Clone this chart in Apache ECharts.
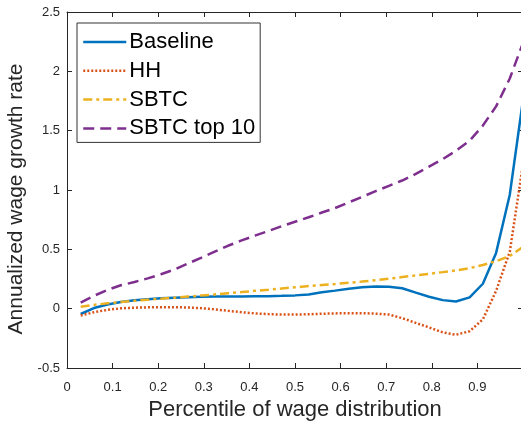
<!DOCTYPE html>
<html>
<head>
<meta charset="utf-8">
<script src="https://cdn.jsdelivr.net/npm/echarts@6/dist/echarts.min.js"></script>
<style>
  html, body { margin: 0; padding: 0; background: #fff; }
  #chart { width: 521px; height: 423px; }
</style>
</head>
<body>
<div id="chart"></div>
<script>
// Percentile points at which each wage-growth curve is evaluated
const percentiles = [0.030, 0.059, 0.089, 0.118, 0.148, 0.177, 0.206, 0.236, 0.265, 0.295,
  0.324, 0.353, 0.383, 0.412, 0.442, 0.471, 0.500, 0.530, 0.559, 0.588,
  0.618, 0.647, 0.677, 0.706, 0.735, 0.765, 0.794, 0.824, 0.853, 0.883,
  0.912, 0.941, 0.971, 1.000];

const baseline = [-0.045, 0.005, 0.035, 0.057, 0.070, 0.080, 0.088, 0.093, 0.097, 0.100,
  0.102, 0.103, 0.103, 0.104, 0.105, 0.108, 0.112, 0.120, 0.138, 0.152,
  0.168, 0.180, 0.186, 0.184, 0.172, 0.135, 0.100, 0.072, 0.060, 0.095,
  0.210, 0.470, 0.960, 1.760];

const hh = [-0.058, -0.030, -0.010, 0.003, 0.008, 0.011, 0.012, 0.012, 0.010, 0.004,
  -0.006, -0.018, -0.030, -0.040, -0.046, -0.050, -0.050, -0.047, -0.043, -0.040,
  -0.038, -0.038, -0.042, -0.050, -0.080, -0.120, -0.158, -0.200, -0.220, -0.190,
  -0.090, 0.150, 0.480, 1.220];

const sbtc = [0.017, 0.032, 0.045, 0.056, 0.066, 0.075, 0.084, 0.093, 0.102, 0.111,
  0.120, 0.130, 0.140, 0.150, 0.160, 0.170, 0.180, 0.190, 0.199, 0.208,
  0.218, 0.228, 0.240, 0.252, 0.266, 0.280, 0.294, 0.308, 0.322, 0.342,
  0.368, 0.400, 0.445, 0.520];

const sbtcTop10 = [0.050, 0.108, 0.158, 0.197, 0.225, 0.255, 0.290, 0.330, 0.380, 0.430,
  0.480, 0.530, 0.575, 0.615, 0.655, 0.695, 0.732, 0.770, 0.810, 0.848,
  0.896, 0.942, 0.990, 1.035, 1.080, 1.136, 1.197, 1.260, 1.330, 1.415,
  1.543, 1.705, 1.940, 2.240];

const seriesNames = ['Baseline', 'HH', 'SBTC', 'SBTC top 10'];
const seriesColors = ['#0072BD', '#D95319', '#EDB120', '#7E2F8E'];
const seriesDashes = ['solid', [2, 2], [9, 4, 3, 4], [11, 6]];
const seriesValues = [baseline, hh, sbtc, sbtcTop10];

const FONT = 'Liberation Sans, Arial, Helvetica, sans-serif';
const AXIS_COLOR = '#262626';

const chart = echarts.init(document.getElementById('chart'), null, { renderer: 'canvas' });

const pairs = vals => percentiles.map((p, i) => [p, vals[i]]);

const axisCommon = {
  axisLine: { show: true, onZero: false, lineStyle: { color: AXIS_COLOR, width: 1 } },
  axisTick: { show: true, inside: true, length: 5, lineStyle: { color: AXIS_COLOR } },
  splitLine: { show: false }
};

chart.setOption({
  animation: false,
  backgroundColor: '#ffffff',
  grid: { left: 67, top: 12, width: 456, height: 356, containLabel: false, outerBoundsMode: 'none' },
  legend: {
    data: seriesNames,
    orient: 'vertical',
    left: 77,
    top: 23,
    padding: [8, 5, 3, 5],
    itemWidth: 43,
    itemHeight: 20,
    itemGap: 6.8,
    borderColor: '#333333',
    borderWidth: 1,
    backgroundColor: '#ffffff',
    itemStyle: { opacity: 0 },
    lineStyle: { width: 2.5 },
    textStyle: { fontFamily: FONT, fontSize: 22, lineHeight: 20, color: '#000000', padding: [0, 0, 0, -2] },
    inactiveColor: '#ccc'
  },
  xAxis: [
    Object.assign({
      type: 'value', min: 0, max: 1, interval: 0.1, position: 'bottom',
      name: 'Percentile of wage distribution',
      nameLocation: 'middle', nameGap: 31,
      nameTextStyle: { fontFamily: FONT, fontSize: 22, color: AXIS_COLOR },
      axisLabel: { fontFamily: FONT, fontSize: 13, color: AXIS_COLOR, margin: 13, showMaxLabel: false }
    }, axisCommon),
    Object.assign({
      type: 'value', min: 0, max: 1, interval: 0.1, position: 'top',
      axisLabel: { show: false }
    }, axisCommon)
  ],
  yAxis: [
    Object.assign({
      type: 'value', min: -0.5, max: 2.5, interval: 0.5, position: 'left',
      name: 'Annualized wage growth rate',
      nameLocation: 'middle', nameGap: 34, nameRotate: 90,
      nameTextStyle: { fontFamily: FONT, fontSize: 21, color: AXIS_COLOR, padding: [0, 18, 0, 0] },
      axisLabel: { fontFamily: FONT, fontSize: 13, color: AXIS_COLOR, margin: 7 }
    }, axisCommon),
    Object.assign({
      type: 'value', min: -0.5, max: 2.5, interval: 0.5, position: 'right',
      axisLabel: { show: false }
    }, axisCommon)
  ],
  series: seriesNames.map((name, i) => ({
    name: name,
    type: 'line',
    xAxisIndex: 0,
    yAxisIndex: 0,
    data: pairs(seriesValues[i]),
    showSymbol: false,
    symbol: 'none',
    smooth: false,
    clip: true,
    color: seriesColors[i],
    lineStyle: { color: seriesColors[i], width: 2.5, type: seriesDashes[i], cap: 'butt' },
    emphasis: { disabled: true }
  }))
});
</script>
</body>
</html>
